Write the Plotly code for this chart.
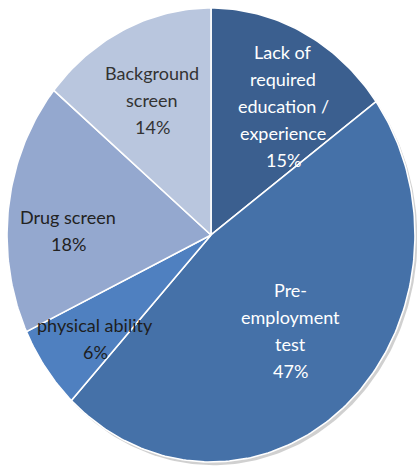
import numpy as np
import plotly.graph_objects as go

# Share of applicants screened out, by reason
categories = [
    "Lack of required education / experience",
    "Pre-employment test",
    "physical ability",
    "Drug screen",
    "Background screen",
]
shares = [15, 47, 6, 18, 14]

# Label lines shown inside each slice (the share is appended below them)
label_lines = [
    ["Lack of", "required", "education /", "experience"],
    ["Pre-", "employment", "test"],
    ["physical ability"],
    ["Drug screen"],
    ["Background", "screen"],
]

colors = ["#3b5f8f", "#4571a8", "#4f80c0", "#94a8cf", "#b9c6de"]
text_colors = ["white", "white", "#1e1e1e", "#222222", "#333333"]

W, H = 417, 468

# Pie drawn on a unit circle; axis ranges give the oval footprint on the page
x_range = [-1.0343, 1.0098]
y_range = [-1.0265, 1.0352]

fig = go.Figure()

# faint drop shadow under the pie
t = np.linspace(0, 2 * np.pi, 361)
fig.add_trace(
    go.Scatter(
        x=np.sin(t) + 0.012,
        y=np.cos(t) - 0.014,
        mode="lines",
        fill="toself",
        fillcolor="rgba(120,120,120,0.35)",
        line=dict(width=0),
        hoverinfo="skip",
        showlegend=False,
    )
)

total = float(sum(shares))
start = 0.0
for name, val, col in zip(categories, shares, colors):
    frac = val / total
    a0, a1 = start * 2 * np.pi, (start + frac) * 2 * np.pi
    n = max(int(frac * 360), 4)
    ang = np.linspace(a0, a1, n)
    xs = np.concatenate([[0.0], np.sin(ang), [0.0]])
    ys = np.concatenate([[0.0], np.cos(ang), [0.0]])
    fig.add_trace(
        go.Scatter(
            x=xs,
            y=ys,
            mode="lines",
            fill="toself",
            fillcolor=col,
            line=dict(color="white", width=1.6),
            name=name,
            hovertemplate=f"{name}: {val}%<extra></extra>",
            showlegend=False,
        )
    )
    start += frac

# centre of the first text line of each label, in pixels from top-left
label_anchor_px = [(283, 52), (290, 290), (95, 325), (68, 217), (152, 73)]
line_step = 27

annotations = []
for lines, val, (ax, ay), tc in zip(label_lines, shares, label_anchor_px, text_colors):
    all_lines = lines + [f"{val}%"]
    for i, line in enumerate(all_lines):
        y_px = ay + i * line_step
        annotations.append(
            dict(
                x=ax / W,
                y=1 - y_px / H,
                xref="paper",
                yref="paper",
                text=line,
                showarrow=False,
                xanchor="center",
                yanchor="middle",
                font=dict(family="Lato", size=18, color=tc),
            )
        )

fig.update_layout(
    width=W,
    height=H,
    margin=dict(l=0, r=0, t=0, b=0),
    paper_bgcolor="white",
    plot_bgcolor="white",
    annotations=annotations,
    xaxis=dict(range=x_range, visible=False, fixedrange=True),
    yaxis=dict(range=y_range, visible=False, fixedrange=True),
)

fig.write_html("out.html")
